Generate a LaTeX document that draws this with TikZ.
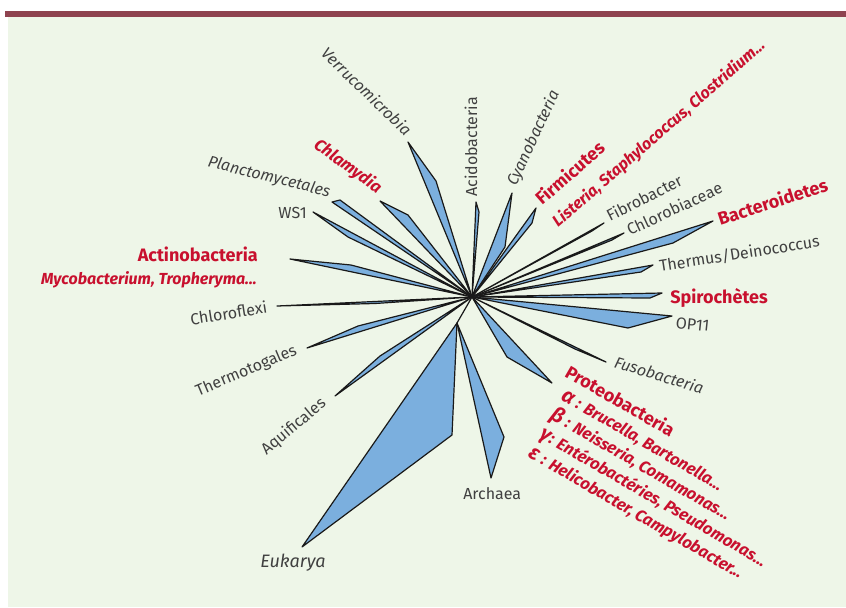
\documentclass[tikz,border=0pt]{standalone}
\usepackage{fontspec}
\setmainfont{Fira Sans}
\usetikzlibrary{positioning,calc}
\definecolor{barred}{HTML}{8E434F}
\definecolor{panelgreen}{HTML}{EEF6E8}
\definecolor{cladeblue}{HTML}{7BAFDE}
\definecolor{labelred}{HTML}{C8102E}

\begin{document}
\begin{tikzpicture}[x=0.75pt, y=-0.75pt, line join=round]
    % Styles
    \tikzstyle{clade} = [draw=black!90, fill=cladeblue, line width=0.9pt]
    \tikzstyle{taxon} = [inner sep=0pt, text=black!75, font=\fontsize{12}{14}\selectfont]
    \tikzstyle{taxon it} = [taxon, font=\fontsize{12}{14}\selectfont\itshape]
    \tikzstyle{group} = [inner sep=0pt, text=labelred, font=\fontsize{13.5}{16}\selectfont\bfseries]
    \tikzstyle{genus} = [inner sep=0pt, text=labelred, font=\fontsize{12}{16}\selectfont\bfseries\itshape]

    % Frame
    \useasboundingbox (0,0) rectangle (846,607);
    \fill[panelgreen] (8,17) rectangle (846,607);
    \fill[barred] (5,11) rectangle (846,17);

    % Branch points
    \coordinate (root) at (472,297);
    \coordinate (split) at (457,323);

    % Tips and side points
    \coordinate (verruT) at (408,142);  \coordinate (verruS) at (436,181);
    \coordinate (chlamT) at (380,201);  \coordinate (chlamS) at (408,215);
    \coordinate (plancT) at (332,202);  \coordinate (plancS) at (340,200);
    \coordinate (ws1T) at (313,212);    \coordinate (ws1S) at (348,237);
    \coordinate (actinoT) at (290,259); \coordinate (actinoS) at (351,265);
    \coordinate (chloroT) at (277,306); \coordinate (chloroS) at (375,303.5);
    \coordinate (thermoT) at (307,348); \coordinate (thermoS) at (358,326);
    \coordinate (aquifT) at (335,396);  \coordinate (aquifS) at (380,356);
    \coordinate (eukarT) at (302,547);  \coordinate (eukarS) at (452,435);
    \coordinate (archaT) at (491,478);  \coordinate (archaS) at (504,437);
    \coordinate (acidoT) at (476,202);  \coordinate (acidoS) at (479,212);
    \coordinate (cyanoT) at (512,193);  \coordinate (cyanoS) at (505,247);
    \coordinate (firmiT) at (536,208);  \coordinate (firmiS) at (532,223);
    \coordinate (fibroT) at (604,223);  \coordinate (fibroS) at (592,231);
    \coordinate (chlorT) at (624,233);  \coordinate (chlorS) at (612,240);
    \coordinate (bacteT) at (713,221);  \coordinate (bacteS) at (673,243);
    \coordinate (thermT) at (653,265);  \coordinate (thermS) at (641,272);
    \coordinate (spiroT) at (662,293);  \coordinate (spiroS) at (650,298);
    \coordinate (op11T) at (672,316);   \coordinate (op11S) at (628,328);
    \coordinate (fusoT) at (606,362);   \coordinate (fusoS) at (575,349);
    \coordinate (proteT) at (552,383);  \coordinate (proteS) at (507,357);

    % Clades
    \foreach \c in {verru,chlam,planc,ws1,actino,chloro,thermo,aquif,
                    acido,cyano,firmi,fibro,chlor,bacte,therm,spiro,op11,fuso,prote}
        \draw[clade] (root) -- (\c S) -- (\c T) -- cycle;
    \draw[clade] (root) -- (split);
    \draw[clade] (split) -- (eukarS) -- (eukarT) -- cycle;
    \draw[clade] (split) -- (archaS) -- (archaT) -- cycle;

    % Labels, left side
    \node[taxon it, rotate=-44, anchor=base east] (verruL) at (405,137) {Verrucomicrobia};
    \node[genus, font=\fontsize{12.5}{14}\selectfont\bfseries\itshape, rotate=-36, anchor=base east] (chlamL) at (377,194) {Chlamydia};
    \node[taxon it, rotate=-14, anchor=base east] (plancL) at (329,197) {Planctomycetales};
    \node[taxon, anchor=base east] (ws1L) at (307,218) {WS1};
    \node[group, anchor=base east] (actinoL) at (258,261) {Actinobacteria};
    \node[genus, anchor=base east] (mycoL) at (257,284) {Mycobacterium, Tropheryma...};
    \node[taxon, rotate=9, anchor=base east] (chloroL) at (268,313) {Chloroflexi};
    \node[taxon, rotate=23, anchor=base east] (thermoL) at (298,354) {Thermotogales};
    \node[taxon, rotate=40, anchor=base east] (aquifL) at (327,405) {Aquificales};
    \node[taxon it, font=\fontsize{13.5}{16}\selectfont\itshape, anchor=base west] (eukarL) at (260,567) {Eukarya};
    \node[taxon, anchor=base west] (archaL) at (463,499) {Archaea};

    % Labels, right side
    \node[taxon, rotate=90, anchor=base west] (acidoL) at (477,197) {Acidobacteria};
    \node[taxon it, rotate=65, anchor=base west] (cyanoL) at (516,187) {Cyanobacteria};
    \node[group, rotate=41, anchor=base west] (firmiL) at (542,206) {Firmicutes};
    \node[genus, rotate=41, anchor=base west] (listeL) at (558,228) {Listeria, Staphylococcus, Clostridium...};
    \node[taxon, rotate=27, anchor=base west] (fibroL) at (610,222) {Fibrobacter};
    \node[taxon, rotate=25, anchor=base west] (chlorL) at (630,236) {Chlorobiaceae};
    \node[group, rotate=18, anchor=base west] (bacteL) at (720,226) {Bacteroidetes};
    \node[taxon, rotate=9, anchor=base west] (thermL) at (660,272) {Thermus/Deinococcus};
    \node[group, anchor=base west] (spiroL) at (670,303) {Spirochètes};
    \node[taxon, rotate=-6, anchor=base west] (op11L) at (675,328) {OP11};
    \node[taxon it, rotate=-17, anchor=base west] (fusoL) at (613,367) {Fusobacteria};
    \node[genus, font=\fontsize{12.3}{16.5}\selectfont\bfseries\itshape, rotate=-30, anchor=north west, align=left] (proteL) at (571,363)
        {{\fontsize{13.5}{16}\selectfont\upshape Proteobacteria}\\
         \hspace*{7pt}{\fontsize{15.5}{16}\selectfont α} : Brucella, Bartonella...\\
         \hspace*{7pt}{\fontsize{15.5}{16}\selectfont β} : Neisseria, Comamonas...\\
         \hspace*{7pt}{\fontsize{15.5}{16}\selectfont γ}: Entérobactéries, Pseudomonas...\\
         \hspace*{7pt}{\fontsize{15.5}{16}\selectfont ε} : Helicobacter, Campylobacter...};
\end{tikzpicture}
\end{document}
